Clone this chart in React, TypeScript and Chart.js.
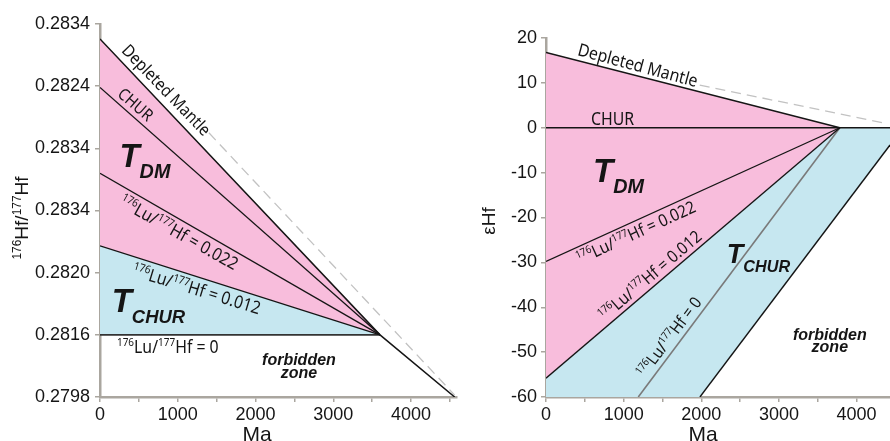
"use client"

import { useEffect, useRef } from "react"
import { Chart, registerables } from "chart.js"

Chart.register(...registerables)

// ---- left panel: 176Hf/177Hf against age (Ma)
// y values are in tick-slot units; the slot labels are printed as on the figure
const leftYTickLabels = ["0.2798", "0.2816", "0.2820", "0.2834", "0.2834", "0.2824", "0.2834"]
const leftAgeMax = 4590
const leftAgeTicks = [0, 500, 1000, 1500, 2000, 2500, 3000, 3500, 4000, 4500]
const leftDmAge = [0, 3600, 4560]
const leftDmRatio = [5.76, 1.0, 0.0]
const leftDashAge = [1400, 4560]
const leftDashRatio = [4.25, 0.03]
const leftChurAge = [0, 3600]
const leftChurRatio = [4.98, 1.0]
const leftLu022Age = [0, 3600]
const leftLu022Ratio = [3.6, 1.0]
const leftLu012Age = [0, 3600]
const leftLu012Ratio = [2.43, 1.0]
const leftLu0Age = [0, 3600]
const leftLu0Ratio = [1.0, 1.0]

// ---- right panel: epsilon Hf against age (Ma)
const rightAgeMax = 4430
const rightAgeTicks = [0, 500, 1000, 1500, 2000, 2500, 3000, 3500, 4000]
const rightEpsMin = -60
const rightEpsMax = 20
const rightDmAge = [0, 3784]
const rightDmEps = [16.8, 0]
const rightDashAge = [1980, 4370]
const rightDashEps = [9.5, 1.0]
const rightChurAge = [0, 4430]
const rightChurEps = [0, 0]
const rightLu022Age = [0, 3784]
const rightLu022Eps = [-29.8, 0]
const rightLu012Age = [0, 3784]
const rightLu012Eps = [-55.8, 0]
const rightLu0Age = [1188, 3784]
const rightLu0Eps = [-60, 0]
const rightLimitAge = [1982, 4430]
const rightLimitEps = [-60, -3.85]

const TICK_FAMILY = "'Liberation Sans', Arial, sans-serif"
const NOTE_FAMILY = "'Noto Sans', sans-serif"
const AXIS_GRAY = "#aaa69f"
const INK = "#151515"
const PINK = "#f8bddc"
const BLUE = "#c6e7f0"
const DASH_GRAY = "#c2c2c2"
// Noto Sans is wider than the figure's face, squeeze it a little
const NOTE_SQUEEZE = 0.9

type Pt = { x: number; y: number }
type Run = { t: string; k?: number; dy?: number }
type Anchor = "center" | "base" | "baseLeft"
type Note = {
  x: number
  y: number
  size: number
  runs: Run[]
  angle?: number
  anchor?: Anchor
  style?: string
  family?: string
}
type Title = { px: number; py: number; size: number; runs: Run[]; angle?: number }

const pts = (xs: number[], ys: number[]): Pt[] => xs.map((x, i) => ({ x, y: ys[i] }))
const sup = (t: string): Run => ({ t, k: 0.63, dy: -0.38 })
const luRuns = (v: string): Run[] => [sup("176"), { t: "Lu/" }, sup("177"), { t: "Hf = " + v }]
const tRuns = (sub: string, k = 0.6): Run[] => [{ t: "T" }, { t: sub, k, dy: 0.34 }]
const BI = "italic bold"

const leftNotes: Note[] = [
  { x: 855, y: 4.94, angle: 46, size: 17, runs: [{ t: "Depleted Mantle" }] },
  { x: 460, y: 4.71, angle: 41, size: 16.5, runs: [{ t: "CHUR" }] },
  { x: 1015, y: 2.65, angle: 29.5, size: 17.6, runs: luRuns("0.022") },
  { x: 1243, y: 1.74, angle: 17, size: 17.6, runs: luRuns("0.012") },
  { x: 218, y: 0.71, size: 17.6, runs: luRuns("0"), anchor: "baseLeft" },
  { x: 250, y: 3.7, size: 33, style: BI, family: TICK_FAMILY, runs: tRuns("DM"), anchor: "baseLeft" },
  { x: 150, y: 1.37, size: 33, style: BI, family: TICK_FAMILY, runs: tRuns("CHUR", 0.56), anchor: "baseLeft" },
  { x: 2558, y: 0.51, size: 16, style: BI, family: TICK_FAMILY, runs: [{ t: "forbidden" }], anchor: "base" },
  { x: 2558, y: 0.3, size: 16, style: BI, family: TICK_FAMILY, runs: [{ t: "zone" }], anchor: "base" },
]

const rightNotes: Note[] = [
  { x: 1184, y: 14.0, angle: 15, size: 17.6, runs: [{ t: "Depleted Mantle" }] },
  { x: 856, y: 2.1, size: 17.6, runs: [{ t: "CHUR" }] },
  { x: 1158, y: -23.3, angle: -24.5, size: 17, runs: luRuns("0.022") },
  { x: 1338, y: -32.9, angle: -40.4, size: 17, runs: luRuns("0.012") },
  { x: 1583, y: -46.6, angle: -53, size: 16.5, runs: luRuns("0") },
  { x: 605, y: -12.1, size: 33, style: BI, family: TICK_FAMILY, runs: tRuns("DM"), anchor: "baseLeft" },
  { x: 2329, y: -30.2, size: 27, style: BI, family: TICK_FAMILY, runs: tRuns("CHUR"), anchor: "baseLeft" },
  { x: 3655, y: -47.3, size: 16, style: BI, family: TICK_FAMILY, runs: [{ t: "forbidden" }], anchor: "base" },
  { x: 3655, y: -49.9, size: 16, style: BI, family: TICK_FAMILY, runs: [{ t: "zone" }], anchor: "base" },
]

const leftTitles: Title[] = [
  { px: 28, py: 218, size: 19, angle: -90, runs: [sup("176"), { t: "Hf/" }, sup("177"), { t: "Hf" }] },
  { px: 257, py: 433, size: 21, runs: [{ t: "Ma" }] },
]
const rightTitles: Title[] = [
  { px: 35, py: 221, size: 19, angle: -90, runs: [{ t: "εHf" }] },
  { px: 243, py: 433, size: 21, runs: [{ t: "Ma" }] },
]

function drawRuns(
  ctx: CanvasRenderingContext2D,
  runs: Run[],
  size: number,
  style: string,
  family: string,
  x: number,
  y: number,
  angle: number,
  anchor: Anchor,
  squeeze = 1
) {
  ctx.save()
  ctx.translate(x, y)
  ctx.rotate((angle * Math.PI) / 180)
  ctx.scale(squeeze, 1)
  ctx.textAlign = "left"
  ctx.textBaseline = "alphabetic"
  const parts = runs.map((r) => {
    const s = size * (r.k ?? 1)
    const font = `${style} ${s}px ${family}`.trim()
    ctx.font = font
    return { r, font, w: ctx.measureText(r.t).width }
  })
  const total = parts.reduce((a, p) => a + p.w, 0)
  let cx = anchor === "baseLeft" ? 0 : -total / 2
  const cy = anchor === "center" ? size * 0.36 : 0
  for (const p of parts) {
    ctx.font = p.font
    ctx.fillText(p.r.t, cx, cy + size * (p.r.dy ?? 0))
    cx += p.w
  }
  ctx.restore()
}

function textPlugin(notes: Note[], titles: Title[]) {
  return {
    id: "figureText",
    afterDatasetsDraw(chart: Chart) {
      const { ctx } = chart
      const xs = chart.scales.x
      const ys = chart.scales.y
      ctx.save()
      ctx.fillStyle = INK
      for (const n of notes) {
        const family = n.family ?? NOTE_FAMILY
        drawRuns(
          ctx,
          n.runs,
          n.size,
          n.style ?? "",
          family,
          xs.getPixelForValue(n.x),
          ys.getPixelForValue(n.y),
          n.angle ?? 0,
          n.anchor ?? "center",
          family === NOTE_FAMILY ? NOTE_SQUEEZE : 1
        )
      }
      for (const t of titles) {
        drawRuns(ctx, t.runs, t.size, "", TICK_FAMILY, t.px, t.py, t.angle ?? 0, t.angle ? "base" : "center")
      }
      ctx.restore()
    },
  }
}

const line = (data: Pt[], color = INK, width = 1.3, dash: number[] = []) => ({
  data,
  borderColor: color,
  borderWidth: width,
  borderDash: dash,
  pointRadius: 0,
  fill: false,
  order: 1,
})

const area = (data: Pt[], color: string) => ({
  data,
  backgroundColor: color,
  borderColor: "rgba(0,0,0,0)",
  borderWidth: 0,
  pointRadius: 0,
  fill: "shape",
  order: 2,
})

const tickFont = { family: TICK_FAMILY, size: 18 }

function xAxis(max: number, tickValues: number[]) {
  return {
    type: "linear",
    min: 0,
    max,
    // Chart.js would spread step ticks evenly over min..max, so set them outright
    afterBuildTicks: (s: any) => {
      s.ticks = tickValues.map((value) => ({ value }))
    },
    ticks: {
      autoSkip: false,
      maxRotation: 0,
      minRotation: 0,
      padding: 2,
      color: INK,
      font: tickFont,
      callback: (v: number) => (v % 1000 === 0 ? String(v) : ""),
    },
    grid: { display: true, drawOnChartArea: false, drawTicks: true, tickLength: 5, color: AXIS_GRAY, lineWidth: 1.5 },
    border: { display: true, color: AXIS_GRAY, width: 2.5 },
    afterFit: (s: any) => {
      s.height = 44
    },
  }
}

function yAxis(min: number, max: number, step: number, width: number, pad: number, label: (v: number) => string) {
  return {
    type: "linear",
    min,
    max,
    ticks: { stepSize: step, autoSkip: false, padding: pad, color: INK, font: tickFont, callback: label },
    grid: { display: true, drawOnChartArea: false, drawTicks: true, tickLength: 5, color: AXIS_GRAY, lineWidth: 1.5 },
    border: { display: true, color: AXIS_GRAY, width: 2.5 },
    afterFit: (s: any) => {
      s.width = width
    },
  }
}

function leftConfig(): any {
  const pink = [...pts(leftDmAge.slice(0, 2), leftDmRatio.slice(0, 2)), ...pts(leftLu012Age, leftLu012Ratio).reverse()]
  const blue = [...pts(leftLu012Age, leftLu012Ratio), ...pts(leftLu0Age, leftLu0Ratio).reverse()]
  return {
    type: "line",
    data: {
      datasets: [
        line(pts(leftDmAge, leftDmRatio), INK, 1.5),
        line(pts(leftChurAge, leftChurRatio)),
        line(pts(leftLu022Age, leftLu022Ratio)),
        line(pts(leftLu012Age, leftLu012Ratio)),
        line(pts(leftLu0Age, leftLu0Ratio), "#333", 1.6),
        line(pts(leftDashAge, leftDashRatio), DASH_GRAY, 1.3, [10, 6]),
        area(pink, PINK),
        area(blue, BLUE),
      ],
    },
    options: {
      animation: false,
      responsive: false,
      events: [],
      layout: { padding: { top: 24, right: 3, bottom: 0, left: 0 } },
      plugins: { legend: { display: false }, tooltip: { enabled: false }, filler: { drawTime: "beforeDatasetsDraw" } },
      scales: {
        x: xAxis(leftAgeMax, leftAgeTicks),
        y: yAxis(0, leftYTickLabels.length - 1, 1, 100, 5, (v: number) => leftYTickLabels[v] ?? ""),
      },
    },
    plugins: [textPlugin(leftNotes, leftTitles)],
  }
}

function rightConfig(): any {
  const pink = [...pts(rightDmAge, rightDmEps), ...pts(rightLu012Age, rightLu012Eps).reverse()]
  const blue = [
    ...pts(rightLu012Age, rightLu012Eps),
    { x: rightChurAge[1], y: rightChurEps[1] },
    ...pts(rightLimitAge, rightLimitEps).reverse(),
    { x: rightLu012Age[0], y: rightEpsMin },
  ]
  return {
    type: "line",
    data: {
      datasets: [
        line(pts(rightDmAge, rightDmEps), INK, 1.5),
        line(pts(rightChurAge, rightChurEps)),
        line(pts(rightLu022Age, rightLu022Eps)),
        line(pts(rightLu012Age, rightLu012Eps)),
        line(pts(rightLu0Age, rightLu0Eps), "#7a7a7a", 1.6),
        line(pts(rightLimitAge, rightLimitEps), INK, 1.4),
        line(pts(rightDashAge, rightDashEps), DASH_GRAY, 1.3, [10, 6]),
        area(pink, PINK),
        area(blue, BLUE),
      ],
    },
    options: {
      animation: false,
      responsive: false,
      events: [],
      layout: { padding: { top: 38, right: 0, bottom: 0, left: 0 } },
      plugins: { legend: { display: false }, tooltip: { enabled: false }, filler: { drawTime: "beforeDatasetsDraw" } },
      scales: {
        x: xAxis(rightAgeMax, rightAgeTicks),
        y: yAxis(rightEpsMin, rightEpsMax, 10, 86, 4, (v: number) => String(v)),
      },
    },
    plugins: [textPlugin(rightNotes, rightTitles)],
  }
}

function Panel({ width, left, build }: { width: number; left: number; build: () => any }) {
  const ref = useRef<HTMLCanvasElement>(null)
  const inst = useRef<Chart | null>(null)

  useEffect(() => {
    if (!ref.current) return
    if (inst.current) inst.current.destroy()
    inst.current = new Chart(ref.current, build())
    return () => {
      if (inst.current) {
        inst.current.destroy()
        inst.current = null
      }
    }
  }, [build])

  return (
    <div style={{ position: "absolute", left, top: 0, width, height: 441 }}>
      <canvas ref={ref} width={width} height={441} style={{ width, height: 441 }}></canvas>
    </div>
  )
}

export default function App() {
  return (
    <div style={{ position: "fixed", left: 0, top: 0, width: 890, height: 441, background: "#fff", overflow: "hidden" }}>
      <Panel width={460} left={0} build={leftConfig} />
      <Panel width={430} left={460} build={rightConfig} />
    </div>
  )
}
